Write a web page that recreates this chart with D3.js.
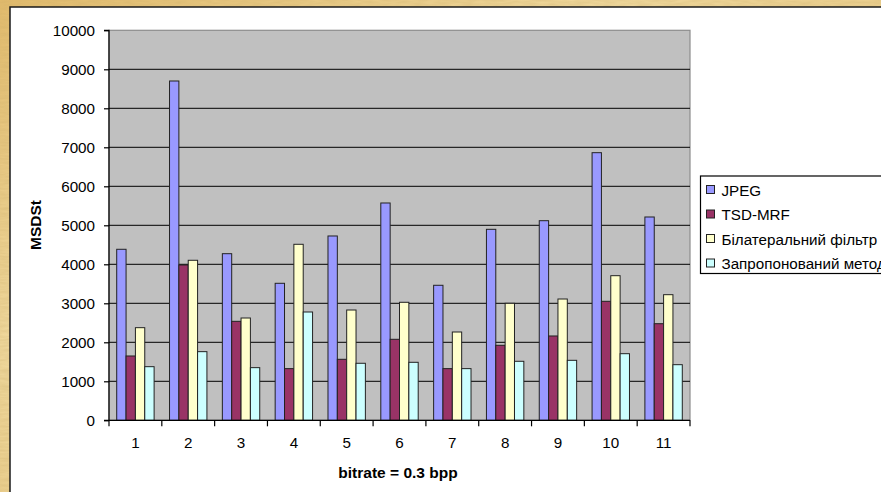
<!DOCTYPE html>
<html>
<head>
<meta charset="utf-8">
<script src="https://cdn.jsdelivr.net/npm/d3@7"></script>
<style>
  html, body { margin: 0; padding: 0; background: #e9c97f; }
  svg { display: block; font-family: Arial, "Liberation Sans", sans-serif; }
</style>
</head>
<body>
<svg id="chart" width="881" height="492"></svg>
<script>
// Image set numbers and measured MSDSt per method
const categories = ["1", "2", "3", "4", "5", "6", "7", "8", "9", "10", "11"];
const seriesNames = ["JPEG", "TSD-MRF", "Білатеральний фільтр", "Запропонований метод"];
const jpeg      = [4385, 8700, 4272, 3513, 4726, 5572, 3462, 4897, 5118, 6862, 5213];
const tsdMrf    = [1649, 3982, 2538, 1325, 1564, 2077, 1325, 1923, 2162, 3051, 2477];
const bilateral = [2375, 4103, 2623, 4513, 2828, 3026, 2264, 3000, 3110, 3708, 3221];
const proposed  = [1375, 1760, 1350, 2777, 1462, 1487, 1325, 1513, 1538, 1708, 1426];
const yTicks = [0, 1000, 2000, 3000, 4000, 5000, 6000, 7000, 8000, 9000, 10000];
const xTitle = "bitrate = 0.3 bpp";
const yTitle = "MSDSt";

const seriesValues = [jpeg, tsdMrf, bilateral, proposed];
const colors = ["#9999ff", "#993366", "#ffffcc", "#ccffff"];

const svg = d3.select("#chart");
const W = 881, H = 492;
const labelSize = 15.2;

// Gold textured frame
const defs = svg.append("defs");
const grad = defs.append("linearGradient").attr("id", "gold")
  .attr("x1", "0").attr("y1", "0").attr("x2", "1").attr("y2", "1");
grad.append("stop").attr("offset", "0%").attr("stop-color", "#e4bd6e");
grad.append("stop").attr("offset", "35%").attr("stop-color", "#f2dba0");
grad.append("stop").attr("offset", "70%").attr("stop-color", "#e8c67e");
grad.append("stop").attr("offset", "100%").attr("stop-color", "#f0d796");
const tex = defs.append("filter").attr("id", "grain");
tex.append("feTurbulence").attr("type", "fractalNoise").attr("baseFrequency", "0.08 0.5")
  .attr("numOctaves", 2).attr("seed", 3).attr("result", "n");
tex.append("feColorMatrix").attr("in", "n").attr("type", "matrix")
  .attr("values", "0 0 0 0 0.55  0 0 0 0 0.38  0 0 0 0 0.12  0 0 0 0.35 0").attr("result", "c");
tex.append("feComposite").attr("in", "c").attr("in2", "SourceGraphic").attr("operator", "in");

svg.append("rect").attr("width", W).attr("height", H).attr("fill", "url(#gold)");
svg.append("rect").attr("width", W).attr("height", H).attr("fill", "#fff").attr("filter", "url(#grain)");

// White chart panel
svg.append("rect").attr("x", 10).attr("y", 7).attr("width", W).attr("height", H)
  .attr("fill", "#fff").attr("stroke", "#1a1a1a").attr("stroke-width", 1.5);

// Plot area
const plot = { left: 109, right: 690, top: 30.3, bottom: 420.3 };

const x0 = d3.scaleBand().domain(categories).range([plot.left, plot.right]).padding(0);
const bw = x0.bandwidth() / (seriesNames.length + 1.65);
const gap = x0.bandwidth() - bw * seriesNames.length;
const x1 = d3.scaleBand().domain(d3.range(seriesNames.length))
  .range([gap / 2, x0.bandwidth() - gap / 2]).padding(0);
const y = d3.scaleLinear().domain([0, 10000]).range([plot.bottom, plot.top]);

svg.append("rect").attr("x", plot.left).attr("y", plot.top)
  .attr("width", plot.right - plot.left).attr("height", plot.bottom - plot.top)
  .attr("fill", "#c0c0c0").attr("stroke", "#8c8c8c").attr("stroke-width", 1.2);

// Gridlines
svg.append("g").selectAll("line").data(yTicks.filter(t => t > 0 && t < 10000)).join("line")
  .attr("x1", plot.left).attr("x2", plot.right)
  .attr("y1", d => y(d)).attr("y2", d => y(d))
  .attr("stroke", "#000").attr("stroke-width", 1);

// Bars
const groups = svg.append("g").selectAll("g").data(categories).join("g")
  .attr("transform", d => `translate(${x0(d)},0)`);
groups.selectAll("rect")
  .data((c, i) => seriesValues.map((vals, s) => ({ s, v: vals[i] })))
  .join("rect")
  .attr("x", d => x1(d.s))
  .attr("y", d => y(d.v))
  .attr("width", x1.bandwidth())
  .attr("height", d => y(0) - y(d.v))
  .attr("fill", d => colors[d.s])
  .attr("stroke", "#222")
  .attr("stroke-width", 1);

// Y axis
const yAxis = d3.axisLeft(y).tickValues(yTicks).tickSize(5).tickPadding(9).tickFormat(d3.format("d"));
const gy = svg.append("g").attr("transform", `translate(${plot.left},0)`).call(yAxis);
gy.select(".domain").attr("stroke", "#000").attr("stroke-width", 1.2).attr("d", `M-5,${plot.top}H0V${plot.bottom}H-5`);
gy.selectAll(".tick line").attr("stroke", "#000").attr("stroke-width", 1.2);
gy.selectAll("text").attr("font-size", labelSize).attr("fill", "#000")
  .attr("font-family", "Arial, 'Liberation Sans', sans-serif");

// X axis: ticks at band boundaries, labels at centres
const gx = svg.append("g").attr("transform", `translate(0,${plot.bottom})`);
gx.append("line").attr("x1", plot.left).attr("x2", plot.right).attr("stroke", "#000").attr("stroke-width", 1.2);
const bounds = categories.map(c => x0(c)).concat([plot.right]);
gx.selectAll("line.tk").data(bounds).join("line").attr("class", "tk")
  .attr("x1", d => d).attr("x2", d => d).attr("y1", 0).attr("y2", 6)
  .attr("stroke", "#000").attr("stroke-width", 1.2);
gx.selectAll("text").data(categories).join("text")
  .attr("x", d => x0(d) + x0.bandwidth() / 2)
  .attr("y", 28)
  .attr("text-anchor", "middle")
  .attr("font-size", labelSize)
  .text(d => d);

// Axis titles
svg.append("text").attr("x", 398).attr("y", 477.5)
  .attr("text-anchor", "middle").attr("font-size", 15.5).attr("font-weight", "bold")
  .text(xTitle);
svg.append("text").attr("transform", "translate(40.5,225) rotate(-90)")
  .attr("text-anchor", "middle").attr("font-size", 15.5).attr("font-weight", "bold")
  .text(yTitle);

// Legend
const lg = svg.append("g").attr("transform", "translate(700.5,176)");
lg.append("rect").attr("width", 200).attr("height", 97.5)
  .attr("fill", "#fff").attr("stroke", "#000").attr("stroke-width", 1.2);
const items = lg.selectAll("g").data(seriesNames).join("g")
  .attr("transform", (d, i) => `translate(6,${14 + i * 24.5})`);
items.append("rect").attr("x", 0).attr("y", -4.5).attr("width", 8).attr("height", 8)
  .attr("fill", (d, i) => colors[i]).attr("stroke", "#222").attr("stroke-width", 1);
items.append("text").attr("x", 15).attr("y", 5.5).attr("font-size", labelSize).text(d => d);
</script>
</body>
</html>
